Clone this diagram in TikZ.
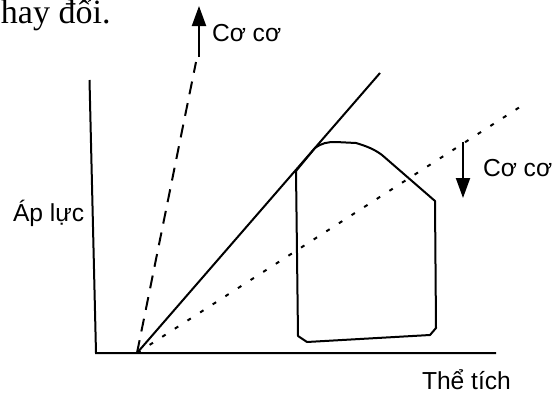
\documentclass[tikz,border=0pt]{standalone}
\usepackage{fontspec}
\setmainfont{Liberation Sans}
\newfontfamily\bookfont{Liberation Serif}
\usetikzlibrary{arrows.meta}
\begin{document}
\begin{tikzpicture}[x=0.5pt,y=-0.5pt,line width=1pt,every node/.style={font=\fontsize{12.3}{14}\selectfont,inner sep=0pt,anchor=west}]
\useasboundingbox (0,0) rectangle (557,396);
\coordinate (Y) at (89.5,80);
\coordinate (O) at (96,353);
\coordinate (X) at (496,353);
\coordinate (P) at (137,353);
\coordinate (A) at (196,62);
\coordinate (B) at (380,73);
\coordinate (C) at (523,105);
\coordinate (U1) at (199,57);
\coordinate (U2) at (199,6);
\coordinate (D1) at (463,142);
\coordinate (D2) at (463,198);
\draw (Y) -- (O) -- (X);
\draw (P) -- (B);
\draw[dash pattern=on 6.5pt off 4.5pt] (P) -- (A);
\draw[dash pattern=on 2pt off 5.5pt] (P) -- (C);
\draw[-{Triangle[length=10pt,width=7pt]}] (U1) -- (U2);
\draw[-{Triangle[length=10pt,width=7pt]}] (D1) -- (D2);
% loop
\draw[line join=round] (296,171) -- (315,148) .. controls (322,143) and (327,142) .. (336,142)
  -- (356,143) .. controls (366,146) and (374,149) .. (382,155) -- (435,201) -- (436,328) -- (430,335) -- (307,342) -- (298,336) -- cycle;
\node at (0,15) {\bookfont\fontsize{17}{19}\selectfont hay đổi.};
\node at (211,33) {Cơ cơ};
\node at (482,168) {Cơ cơ};
\node at (12,213) {Áp lực};
\node at (421,380) {Thể tích};
\end{tikzpicture}
\end{document}
